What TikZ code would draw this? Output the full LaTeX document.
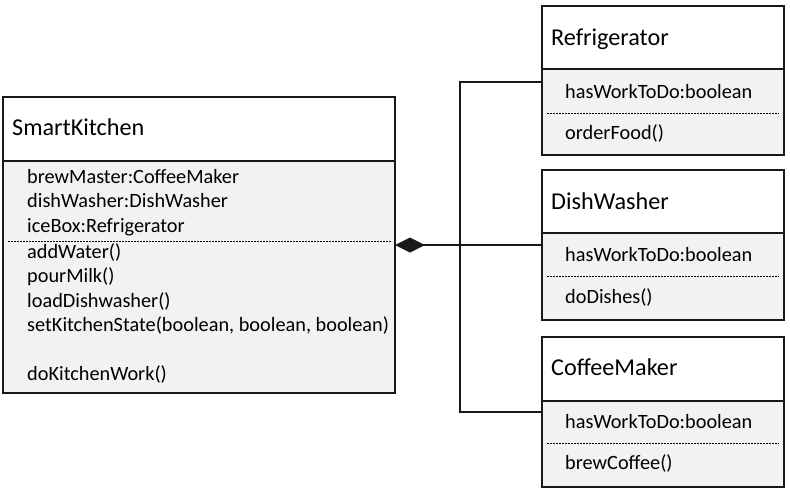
\documentclass[tikz,border=0pt]{standalone}
\usepackage{fontspec}
\setmainfont{Carlito}
\usetikzlibrary{arrows.meta}
\begin{document}
\begin{tikzpicture}[x=1pt,y=-1pt,
  box/.style={draw=black!90, line width=1.4pt, anchor=north west, inner sep=0pt, outer sep=0pt},
  head/.style={box, fill=white},
  body/.style={box, fill=black!5},
  title/.style={anchor=base west, inner sep=0pt, font=\fontsize{24.2}{28}\selectfont},
  member/.style={anchor=base west, inner sep=0pt, font=\fontsize{20.3}{24}\selectfont},
  divider/.style={line width=0.8pt, dash pattern=on 2pt off 1pt},
  link/.style={draw=black!90, line width=1.4pt}]
\useasboundingbox (0,0) rectangle (790,490);

% ---- SmartKitchen ----
\node[head, minimum width=392pt, minimum height=64pt]  (skh) at (3,97) {};
\node[body, minimum width=392pt, minimum height=232pt] (skb) at (3,161) {};
\draw[divider] ([shift={(5,80)}]skb.north west) -- ([shift={(-3,80)}]skb.north east);
\node[title]  (skt)  at (12,135.5) {SmartKitchen};
\node[member] (ska1) at (27,183)   {brewMaster:CoffeeMaker};
\node[member] (ska2) at (27,207.5) {dishWasher:DishWasher};
\node[member] (ska3) at (27,232)   {iceBox:Refrigerator};
\node[member] (skm1) at (27,258)   {addWater()};
\node[member] (skm2) at (27,282.5) {pourMilk()};
\node[member] (skm3) at (27,307)   {loadDishwasher()};
\node[member] (skm4) at (27,331.5) {setKitchenState(boolean, boolean, boolean)};
\node[member] (skm5) at (27,380.5) {doKitchenWork()};

% ---- Refrigerator ----
\node[head, minimum width=242pt, minimum height=63pt] (refh) at (542,6) {};
\node[body, minimum width=242pt, minimum height=86pt] (refb) at (542,69) {};
\draw[divider] ([shift={(5,44)}]refb.north west) -- ([shift={(-5,44)}]refb.north east);
\node[title]  (reft) at (551,45)  {Refrigerator};
\node[member] (refa) at (565,98)  {hasWorkToDo:boolean};
\node[member] (refm) at (565,139) {orderFood()};

% ---- DishWasher ----
\node[head, minimum width=242pt, minimum height=63pt] (dwh) at (542,170) {};
\node[body, minimum width=242pt, minimum height=87pt] (dwb) at (542,233) {};
\draw[divider] ([shift={(5,43)}]dwb.north west) -- ([shift={(-5,43)}]dwb.north east);
\node[title]  (dwt) at (551,209)   {DishWasher};
\node[member] (dwa) at (565,261.5) {hasWorkToDo:boolean};
\node[member] (dwm) at (565,303)   {doDishes()};

% ---- CoffeeMaker ----
\node[head, minimum width=242pt, minimum height=64pt] (cmh) at (542,337) {};
\node[body, minimum width=242pt, minimum height=86pt] (cmb) at (542,401) {};
\draw[divider] ([shift={(5,42)}]cmb.north west) -- ([shift={(-5,42)}]cmb.north east);
\node[title]  (cmt) at (551,375) {CoffeeMaker};
\node[member] (cma) at (565,428) {hasWorkToDo:boolean};
\node[member] (cmm) at (565,469) {brewCoffee()};

% ---- composition links ----
\path (skb.north east) ++(0,84) coordinate (agg);
\path (refb.north west) ++(0,13) coordinate (rin);
\path (cmb.north west) ++(0,11) coordinate (cin);
\coordinate (bus) at (460,245);
\draw[link, {Diamond[length=30pt,width=15pt]}-] (agg) -- (agg -| dwb.west);
\draw[link] (rin) -| (bus) |- (cin);
\end{tikzpicture}
\end{document}
